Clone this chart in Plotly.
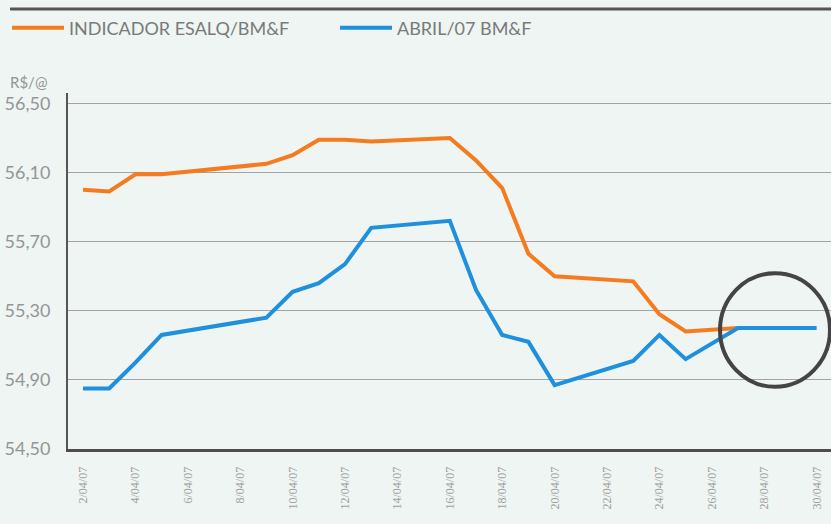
import plotly.graph_objects as go

# ---- data ----
esalq_dates = ["2007-04-02", "2007-04-03", "2007-04-04", "2007-04-05", "2007-04-09",
               "2007-04-10", "2007-04-11", "2007-04-12", "2007-04-13", "2007-04-16",
               "2007-04-17", "2007-04-18", "2007-04-19", "2007-04-20", "2007-04-23",
               "2007-04-24", "2007-04-25", "2007-04-26", "2007-04-27"]
esalq_values = [56.00, 55.99, 56.09, 56.09, 56.15, 56.20, 56.29, 56.29, 56.28, 56.30,
                56.17, 56.01, 55.63, 55.50, 55.47, 55.28, 55.18, 55.19, 55.20]

abril_dates = ["2007-04-02", "2007-04-03", "2007-04-04", "2007-04-05", "2007-04-09",
               "2007-04-10", "2007-04-11", "2007-04-12", "2007-04-13", "2007-04-16",
               "2007-04-17", "2007-04-18", "2007-04-19", "2007-04-20", "2007-04-23",
               "2007-04-24", "2007-04-25", "2007-04-26", "2007-04-27", "2007-04-30"]
abril_values = [54.85, 54.85, 55.00, 55.16, 55.26, 55.41, 55.46, 55.57, 55.78, 55.82,
                55.42, 55.16, 55.12, 54.87, 55.01, 55.16, 55.02, 55.11, 55.20, 55.20]

x_tick_vals = ["2007-04-%02d" % d for d in range(2, 31, 2)]
x_tick_text = ["%d/04/07" % d for d in range(2, 31, 2)]
y_tick_vals = [54.50, 54.90, 55.30, 55.70, 56.10, 56.50]
y_tick_text = ["54,50", "54,90", "55,30", "55,70", "56,10", "56,50"]

series_names = ["INDICADOR ESALQ/BM&F", "ABRIL/07 BM&F"]

# ---- style ----
BG = "#eef5f2"
ORANGE = "#f47b20"
BLUE = "#1f90dd"
GRAY_TXT = "#959595"
FONT = "Lato"

fig = go.Figure()
fig.add_trace(go.Scatter(x=esalq_dates, y=esalq_values, mode="lines", name=series_names[0],
                         line=dict(color=ORANGE, width=4)))
fig.add_trace(go.Scatter(x=abril_dates, y=abril_values, mode="lines", name=series_names[1],
                         line=dict(color=BLUE, width=4)))

fig.update_layout(
    width=831, height=524,
    margin=dict(l=68, r=0, t=93, b=75),
    paper_bgcolor=BG, plot_bgcolor=BG,
    font=dict(family=FONT, color=GRAY_TXT),
    showlegend=True,
    legend=dict(orientation="h", xref="container", yref="container",
                x=7 / 831, y=1 - 28 / 524, xanchor="left", yanchor="middle",
                font=dict(size=18, color="#7a7a7a", family=FONT),
                bgcolor="rgba(0,0,0,0)", itemwidth=52, traceorder="normal",
                entrywidth=261, entrywidthmode="pixels"),
    xaxis=dict(type="date", range=["2007-04-01 10:15", "2007-04-30 13:10"],
               tickvals=x_tick_vals, ticktext=x_tick_text, tickangle=-90,
               tickfont=dict(size=12, color="#a0a0a0", family="Liberation Sans Narrow"),
               showgrid=False, zeroline=False, ticks="",
               showline=True, linecolor="#4d4d4d", linewidth=3,
               ticklabelstandoff=10),
    yaxis=dict(range=[54.5, 56.56], tickvals=y_tick_vals, ticktext=y_tick_text,
               tickfont=dict(size=18, color=GRAY_TXT, family=FONT),
               showgrid=True, gridcolor="#a3a3a3", gridwidth=1, zeroline=False,
               ticks="", showline=True, linecolor="#555555", linewidth=2,
               ticklabelstandoff=12),
    shapes=[
        dict(type="line", xref="paper", yref="paper", x0=-0.076, x1=1.0,
             y0=1.236, y1=1.236, line=dict(color="#555555", width=3)),
        dict(type="circle", xref="x", yref="y",
             x0="2007-04-26 07:30", x1="2007-04-30 12:15",
             y0=54.86, y1=55.517, line=dict(color="#444444", width=4)),
    ],
    annotations=[
        dict(text="R$/@", xref="paper", yref="paper", x=-0.0786, y=1.031,
             xanchor="left", yanchor="middle", showarrow=False,
             font=dict(size=15, color=GRAY_TXT, family=FONT)),
    ],
)

fig.write_html("out.html")
